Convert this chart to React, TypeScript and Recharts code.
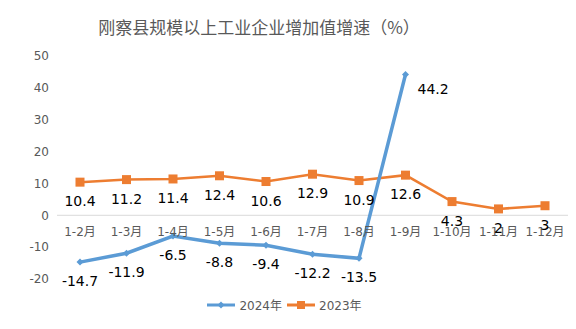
import { LineChart, Line, XAxis, YAxis, ReferenceLine, LabelList, Legend } from "recharts";

const months = ["1-2月", "1-3月", "1-4月", "1-5月", "1-6月", "1-7月", "1-8月", "1-9月", "1-10月", "1-11月", "1-12月"];
const growth2024 = [-14.7, -11.9, -6.5, -8.8, -9.4, -12.2, -13.5, 44.2, null, null, null];
const growth2023 = [10.4, 11.2, 11.4, 12.4, 10.6, 12.9, 10.9, 12.6, 4.3, 2, 3];
const yTicks = [-20, -10, 0, 10, 20, 30, 40, 50];

const BLUE = "#5B9BD5";
const ORANGE = "#ED7D31";
const FONT = "'DejaVu Sans', 'Noto Sans CJK SC', sans-serif";

const data = months.map((m, i) => ({ month: m, y2024: growth2024[i], y2023: growth2023[i] }));

// the category labels sit just under the zero line, not at the bottom of the plot
const MonthTick = ({ x, y, payload }: any) => (
  <text x={x} y={y - 51} textAnchor="middle" fill="#595959" fontSize={12} fontFamily={FONT}>
    {payload.value}
  </text>
);

const Diamond = ({ cx, cy }: any) => {
  if (cx == null || cy == null) return null;
  const r = 3.5;
  return <path d={`M${cx},${cy - r}L${cx + r},${cy}L${cx},${cy + r}L${cx - r},${cy}Z`} fill={BLUE} />;
};

const Square = ({ cx, cy }: any) => {
  if (cx == null || cy == null) return null;
  return <rect x={cx - 4.5} y={cy - 4.5} width={9} height={9} fill={ORANGE} />;
};

const valueLabel = (series: (number | null)[]) => (props: any) => {
  const { x, y, index } = props;
  const v = series[index];
  if (v == null) return null;
  // the 44.2 peak has its label to the right
  const right = v > 40;
  return (
    <text
      x={right ? x + 12 : x}
      y={right ? y + 20 : y + 24}
      textAnchor={right ? "start" : "middle"}
      fill="#000"
      fontSize={14}
      fontFamily={FONT}
    >
      {v}
    </text>
  );
};

const LegendContent = () => (
  <div style={{ display: "flex", justifyContent: "center", alignItems: "center", fontFamily: FONT, fontSize: 12, color: "#595959" }}>
    <svg width={30} height={10}>
      <line x1={1} y1={5} x2={29} y2={5} stroke={BLUE} strokeWidth={3} />
      <path d="M15,1.5L18.5,5L15,8.5L11.5,5Z" fill={BLUE} />
    </svg>
    <span style={{ margin: "0 4px 0 3px" }}>2024年</span>
    <svg width={30} height={10}>
      <line x1={1} y1={5} x2={29} y2={5} stroke={ORANGE} strokeWidth={3} />
      <rect x={11} y={1} width={8} height={8} fill={ORANGE} />
    </svg>
    <span style={{ marginLeft: 3 }}>2023年</span>
  </div>
);

export default function App() {
  return (
    <div style={{ position: "absolute", left: 0, top: 0, width: 576, height: 329, background: "#fff" }}>
      <div
        style={{
          position: "absolute",
          top: 14,
          left: 0,
          width: 518,
          textAlign: "center",
          fontFamily: "'Noto Sans CJK SC', sans-serif",
          fontSize: 17,
          color: "#595959",
        }}
      >
        刚察县规模以上工业企业增加值增速（%）
      </div>
      <LineChart width={576} height={329} data={data} margin={{ top: 56, right: 8, left: 0, bottom: 0 }}>
        <XAxis
          dataKey="month"
          axisLine={false}
          tickLine={false}
          height={26}
          interval={0}
          padding={{ left: 23, right: 23 }}
          tick={<MonthTick />}
        />
        <YAxis
          domain={[-20, 50]}
          ticks={yTicks}
          axisLine={false}
          tickLine={false}
          width={57}
          tick={{ fill: "#595959", fontSize: 12, fontFamily: FONT }}
        />
        <ReferenceLine y={0} stroke="#d9d9d9" strokeWidth={1} />
        <Legend verticalAlign="bottom" height={24} content={<LegendContent />} wrapperStyle={{ bottom: 9 }} />
        <Line
          dataKey="y2023"
          stroke={ORANGE}
          strokeWidth={2.5}
          dot={<Square />}
          activeDot={false}
          isAnimationActive={false}
        >
          <LabelList dataKey="y2023" content={valueLabel(growth2023)} />
        </Line>
        <Line
          dataKey="y2024"
          stroke={BLUE}
          strokeWidth={3.5}
          dot={<Diamond />}
          activeDot={false}
          connectNulls={false}
          isAnimationActive={false}
        >
          <LabelList dataKey="y2024" content={valueLabel(growth2024)} />
        </Line>
      </LineChart>
    </div>
  );
}
